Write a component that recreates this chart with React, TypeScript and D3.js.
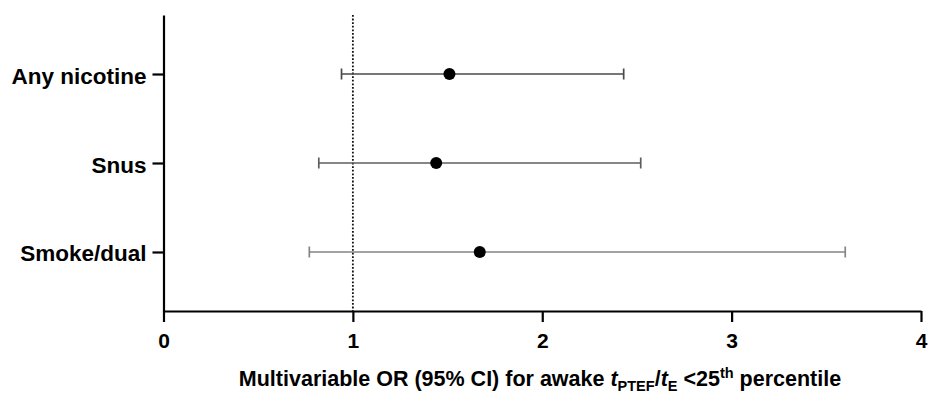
import React, { useEffect, useRef } from 'react';
import * as d3 from 'd3';

const categories = ['Any nicotine', 'Snus', 'Smoke/dual'];
const oddsRatios = [1.51, 1.44, 1.67];
const ciLower = [0.94, 0.82, 0.77];
const ciUpper = [2.43, 2.52, 3.60];
const xTicks = [0, 1, 2, 3, 4];
const barColors = ['#4a4a4a', '#5e5e5e', '#858585'];

const FONT = '"Liberation Sans", Arial, Helvetica, sans-serif';

const App = () => {
    const svgRef = useRef<SVGSVGElement | null>(null);

    useEffect(() => {
        const svg = d3.select(svgRef.current);
        svg.selectAll('*').remove();

        const width = 933;
        const height = 399;
        const margin = { top: 15, right: 12, bottom: 88, left: 163.5 };
        const axisY = height - margin.bottom;

        const x = d3.scaleLinear().domain([0, 4]).range([margin.left, width - margin.right]);
        const y = d3.scalePoint<string>()
            .domain(categories)
            .range([margin.top, axisY])
            .padding(0.663);

        const rows = categories.map((c, i) => ({
            name: c, or: oddsRatios[i], lo: ciLower[i], hi: ciUpper[i], color: barColors[i]
        }));

        // reference line at OR = 1
        svg.append('line')
            .attr('x1', x(1)).attr('x2', x(1))
            .attr('y1', margin.top).attr('y2', axisY)
            .attr('stroke', '#111')
            .attr('stroke-width', 1.8)
            .attr('stroke-dasharray', '1.8,1.8');

        // error bars
        const g = svg.append('g');
        const row = g.selectAll('g.row').data(rows).enter().append('g').attr('class', 'row');
        row.append('line')
            .attr('x1', d => x(d.lo)).attr('x2', d => x(d.hi))
            .attr('y1', d => y(d.name)!).attr('y2', d => y(d.name)!)
            .attr('stroke', d => d.color).attr('stroke-width', 1.7);
        row.append('line')
            .attr('x1', d => x(d.lo)).attr('x2', d => x(d.lo))
            .attr('y1', d => y(d.name)! - 5.5).attr('y2', d => y(d.name)! + 5.5)
            .attr('stroke', d => d.color).attr('stroke-width', 1.7);
        row.append('line')
            .attr('x1', d => x(d.hi)).attr('x2', d => x(d.hi))
            .attr('y1', d => y(d.name)! - 5.5).attr('y2', d => y(d.name)! + 5.5)
            .attr('stroke', d => d.color).attr('stroke-width', 1.7);
        row.append('circle')
            .attr('cx', d => x(d.or)).attr('cy', d => y(d.name)!)
            .attr('r', 6).attr('fill', '#000');

        // x axis
        const xAxis = svg.append('g')
            .attr('transform', `translate(0,${axisY})`)
            .call(d3.axisBottom(x).tickValues(xTicks).tickFormat(d3.format('d')).tickSize(11).tickSizeOuter(0));
        xAxis.select('.domain').attr('stroke', '#000').attr('stroke-width', 2.2);
        xAxis.selectAll('.tick line').attr('stroke', '#000').attr('stroke-width', 2.2);
        xAxis.selectAll('.tick text')
            .attr('y', 22)
            .attr('dy', '0.71em')
            .attr('fill', '#000')
            .style('font-family', FONT)
            .style('font-size', '21px')
            .style('font-weight', 'bold');

        // y axis
        const yAxis = svg.append('g')
            .attr('transform', `translate(${margin.left},0)`)
            .call(d3.axisLeft(y).tickSize(11).tickSizeOuter(0).tickPadding(6));
        yAxis.select('.domain').attr('stroke', '#000').attr('stroke-width', 2.2);
        yAxis.selectAll('.tick line').attr('stroke', '#000').attr('stroke-width', 2.2);
        yAxis.selectAll('.tick text')
            .attr('dy', '0.4em')
            .attr('fill', '#000')
            .style('font-family', FONT)
            .style('font-size', '22.5px')
            .style('font-weight', 'bold');

        // x axis title
        const title = svg.append('text')
            .attr('x', 540)
            .attr('y', 386)
            .attr('text-anchor', 'middle')
            .style('font-family', FONT)
            .style('font-size', '21.5px')
            .style('font-weight', 'bold')
            .attr('fill', '#000');
        title.append('tspan').text('Multivariable OR (95% CI) for awake ');
        title.append('tspan').text('t').style('font-style', 'italic');
        title.append('tspan').text('PTEF').attr('dy', 5).style('font-size', '14.5px');
        title.append('tspan').text('/').attr('dy', -5);
        title.append('tspan').text('t').style('font-style', 'italic');
        title.append('tspan').text('E').attr('dy', 5).style('font-size', '14.5px');
        title.append('tspan').text(' <25').attr('dy', -5);
        title.append('tspan').text('th').attr('dy', -8).style('font-size', '14.5px');
        title.append('tspan').text(' percentile').attr('dy', 8);
    }, []);

    return (
        <div style={{ position: 'absolute', left: 0, top: 0, width: 933, height: 399, background: '#fff' }}>
            <svg ref={svgRef} width={933} height={399} style={{ display: 'block' }}></svg>
        </div>
    );
};

export default App;
